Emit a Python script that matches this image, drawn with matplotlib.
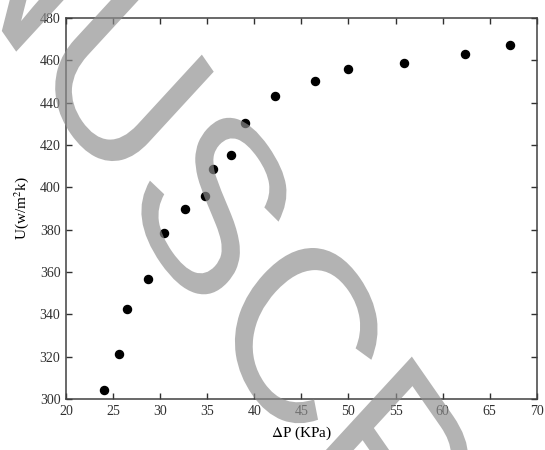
import matplotlib.pyplot as plt
from matplotlib.font_manager import FontProperties
from matplotlib.textpath import TextPath
from matplotlib.patches import PathPatch
from matplotlib.transforms import Affine2D, IdentityTransform

# pressure drop (kPa) and overall heat transfer coefficient U (W/m2K)
dp = [24.0, 25.6, 26.5, 28.7, 30.4, 32.6, 34.8, 35.6, 37.5, 39.0,
      42.2, 46.4, 50.0, 55.9, 62.4, 67.1]
u = [304.5, 321.5, 342.5, 356.8, 378.6, 389.6, 395.9, 408.6, 415.1, 430.6,
     443.3, 450.1, 455.7, 458.7, 462.8, 467.3]

xticks = list(range(20, 71, 5))
yticks = list(range(300, 481, 20))

plt.rcParams['font.family'] = ['Liberation Serif', 'DejaVu Serif']
plt.rcParams['mathtext.fontset'] = 'stix'

fig = plt.figure(figsize=(5.45, 4.5), dpi=100)
ax = fig.add_axes([0.121, 0.113, 0.864, 0.847])

ax.plot(dp, u, linestyle='none', marker='o', markersize=5.8, color='black')

ax.set_xlim(20, 70)
ax.set_ylim(300, 480)
ax.set_xticks(xticks)
ax.set_yticks(yticks)
ax.tick_params(direction='in', length=4, width=1, top=True, right=True,
               labelsize=10, colors='#303030', pad=4)
for s in ax.spines.values():
    s.set_color('#404040')
    s.set_linewidth(1.1)

ax.set_xlabel(r'$\Delta$P (KPa)', fontsize=11, labelpad=5)
ax.set_ylabel(r'U(w/m$^2$k)', fontsize=11, labelpad=6)

# grey diagonal stamp, built as a path so it can be slanted and stretched
stamp = 'ACCEPTED MANUSCRIPT'
em = 212
prop = FontProperties(family='Liberation Sans')
path = TextPath((0, 0), stamp, size=em, prop=prop)
upto_s = TextPath((0, 0), 'ACCEPTED MANUS', size=em, prop=prop).get_extents()
s_box = TextPath((0, 0), 'S', size=em, prop=prop).get_extents()
cx = upto_s.x1 - s_box.width / 2
cy = (s_box.y0 + s_box.y1) / 2
tr = (Affine2D().translate(-cx, -cy).scale(0.92, 0.95).rotate_deg(-49)
      .scale(1, 1.25).translate(214, 246))
fig.add_artist(PathPatch(tr.transform_path(path), transform=IdentityTransform(),
                         facecolor='#8f8f8f', edgecolor='none', alpha=0.68,
                         zorder=10))

fig.savefig('out.png', dpi=100)
